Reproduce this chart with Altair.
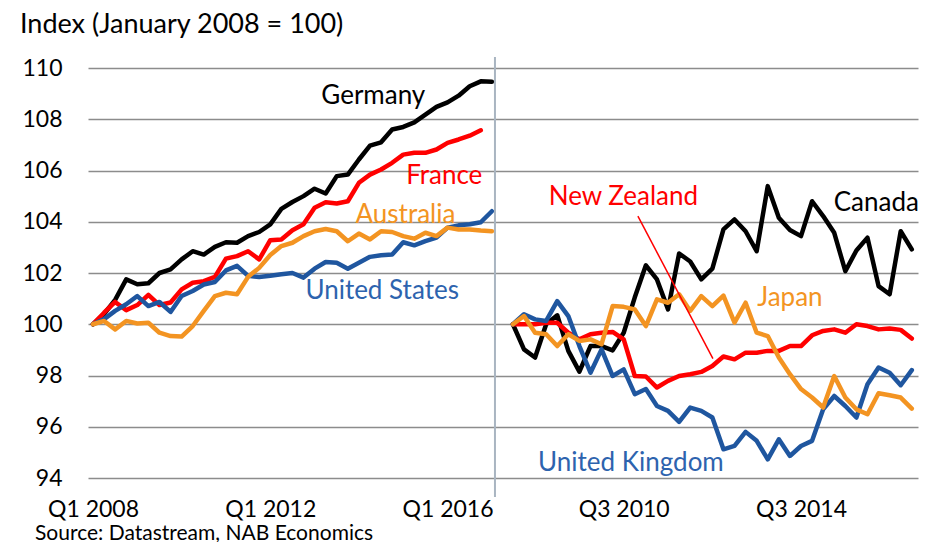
import altair as alt
import pandas as pd

# ---------------- data (quarterly, index Q1 2008 = 0 ... Q1 2017 = 36) ----------------
quarter_labels = ["Q1 2008", "Q1 2012", "Q1 2016", "Q3 2010", "Q3 2014"]

germany = [100, 100.4, 100.95, 101.75, 101.56, 101.6, 102.0, 102.14, 102.53, 102.85,
           102.72, 103.02, 103.2, 103.18, 103.44, 103.6, 103.9, 104.5, 104.77, 105.0,
           105.29, 105.1, 105.78, 105.84, 106.43, 106.97, 107.1, 107.6, 107.7, 107.88,
           108.18, 108.48, 108.66, 108.92, 109.29, 109.48, 109.46]
france = [100, 100.45, 100.87, 100.55, 100.75, 101.15, 100.75, 100.85, 101.36, 101.62,
          101.68, 101.85, 102.56, 102.66, 102.85, 102.53, 103.28, 103.31, 103.67, 103.9,
          104.55, 104.76, 104.71, 104.8, 105.52, 105.84, 106.04, 106.3, 106.62, 106.69,
          106.69, 106.82, 107.08, 107.21, 107.36, 107.57]
united_states = [100, 100.2, 100.52, 100.78, 101.1, 100.71, 100.87, 100.48, 101.1, 101.3,
                 101.55, 101.65, 102.1, 102.28, 101.89, 101.84, 101.89, 101.95, 102.0, 101.82,
                 102.17, 102.43, 102.4, 102.17, 102.4, 102.63, 102.69, 102.72, 103.2, 103.08,
                 103.24, 103.38, 103.77, 103.86, 103.9, 103.98, 104.41]
australia = [100, 100.13, 99.8, 100.13, 100.03, 100.06, 99.67, 99.54, 99.52, 99.93,
             100.52, 101.1, 101.23, 101.17, 101.85, 102.2, 102.7, 103.05, 103.18, 103.44,
             103.63, 103.72, 103.63, 103.24, 103.54, 103.31, 103.63, 103.6, 103.44, 103.34,
             103.57, 103.44, 103.77, 103.7, 103.7, 103.66, 103.63]

canada = [100, 99.02, 98.7, 100.0, 100.35, 98.96, 98.15, 99.15, 99.15, 98.98,
          99.67, 101.05, 102.3, 101.75, 100.58, 102.76, 102.45, 101.75, 102.17, 103.7,
          104.09, 103.63, 102.85, 105.39, 104.16, 103.68, 103.44, 104.8, 104.22, 103.57,
          102.07, 102.88, 103.38, 101.49, 101.17, 103.63, 102.92]
new_zealand = [100, 100, 100, 100.06, 100.06, 99.67, 99.41, 99.61, 99.67, 99.7,
               99.41, 97.98, 97.96, 97.53, 97.79, 97.98, 98.05, 98.14, 98.37, 98.74,
               98.63, 98.89, 98.89, 98.96, 98.96, 99.15, 99.15, 99.57, 99.74, 99.8,
               99.67, 100.0, 99.93, 99.8, 99.83, 99.78, 99.44]
united_kingdom = [100, 100.39, 100.19, 100.13, 100.9, 100.32, 99.15, 98.11, 99.02, 97.98,
                  98.24, 97.27, 97.47, 96.81, 96.62, 96.19, 96.75, 96.62, 96.36, 95.12,
                  95.25, 95.8, 95.45, 94.73, 95.51, 94.86, 95.25, 95.45, 96.68, 97.2,
                  96.81, 96.36, 97.66, 98.31, 98.11, 97.62, 98.21]
japan = [100, 100.32, 99.67, 99.61, 99.15, 99.61, 99.35, 99.41, 99.22, 100.71,
         100.68, 100.58, 99.93, 100.97, 100.84, 101.17, 100.52, 101.1, 100.71, 101.12,
         100.06, 100.84, 99.67, 99.54, 98.7, 98.05, 97.47, 97.14, 96.75, 97.98,
         97.14, 96.68, 96.49, 97.31, 97.23, 97.14, 96.71]

# right panel starts further along the shared quarter axis
RIGHT_OFFSET = 37.9
SEPARATOR_X = 36.28
tick_positions = [0, 16, 32, RIGHT_OFFSET + 10, RIGHT_OFFSET + 26]

BLACK = "#000000"
RED = "#FF0000"
ORANGE = "#F39422"
BLUE_LINE = "#1F569F"
BLUE_TEXT = "#2D63AE"

# draw order: bottom to top
series = [
    ("Germany", germany, 0, BLACK),
    ("France", france, 0, RED),
    ("United States", united_states, 0, BLUE_LINE),
    ("Australia", australia, 0, ORANGE),
    ("Canada", canada, RIGHT_OFFSET, BLACK),
    ("New Zealand", new_zealand, RIGHT_OFFSET, RED),
    ("United Kingdom", united_kingdom, RIGHT_OFFSET, BLUE_LINE),
    ("Japan", japan, RIGHT_OFFSET, ORANGE),
]

label_names = ["Germany", "France", "Australia", "United States",
               "New Zealand", "Canada", "Japan", "United Kingdom"]
label_x = [25.3, 31.7, 28.2, 26.1,
           RIGHT_OFFSET + 9.97, RIGHT_OFFSET + 32.8, RIGHT_OFFSET + 25.0, RIGHT_OFFSET + 10.65]
label_y = [108.61, 105.49, 103.96, 100.97, 104.65, 104.41, 100.71, 94.28]
label_colors = [BLACK, RED, ORANGE, BLUE_TEXT, RED, BLACK, ORANGE, BLUE_TEXT]

leader = pd.DataFrame({"x": [RIGHT_OFFSET + 11.28], "y": [104.22],
                       "x2": [RIGHT_OFFSET + 18.05], "y2": [98.66]})

FONT = "Lato"
x_scale = alt.Scale(domain=[-0.45, 74.46], nice=False, zero=False)
y_scale = alt.Scale(domain=[94, 110], nice=False, zero=False)

label_expr = ("datum.value < 8 ? 'Q1 2008' : datum.value < 24 ? 'Q1 2012' : "
              "datum.value < 40 ? 'Q1 2016' : datum.value < 56 ? 'Q3 2010' : 'Q3 2014'")

x_axis = alt.Axis(values=tick_positions, labelExpr=label_expr, grid=False, ticks=False,
                  domain=False, labelFontSize=23, labelFont=FONT, labelColor="black",
                  labelPadding=20, title=None, labelFlush=False)
y_axis = alt.Axis(values=list(range(94, 111, 2)), grid=True, ticks=False, domain=False,
                  labelFontSize=23, labelFont=FONT, labelColor="black", labelPadding=26,
                  title=None, gridColor="#8C8C8C", gridWidth=1.6)

layers = []
first = True
for name, vals, off, col in series:
    df = pd.DataFrame({"x": [i + off for i in range(len(vals))], "value": vals})
    if first:
        enc_x = alt.X("x:Q", scale=x_scale, axis=x_axis)
        enc_y = alt.Y("value:Q", scale=y_scale, axis=y_axis)
    else:
        enc_x = alt.X("x:Q", scale=x_scale)
        enc_y = alt.Y("value:Q", scale=y_scale)
    ch = alt.Chart(df).mark_line(color=col, strokeWidth=4.5, strokeJoin="round",
                                 strokeCap="round").encode(x=enc_x, y=enc_y)
    first = False
    layers.append(ch)

# panel separator
sep = alt.Chart(pd.DataFrame({"x": [SEPARATOR_X]})).mark_rule(
    color="#A9B5C1", strokeWidth=2).encode(
    x=alt.X("x:Q", scale=x_scale), y=alt.value(-11), y2=alt.value(429))

lead = alt.Chart(leader).mark_rule(color=RED, strokeWidth=1.5).encode(
    x=alt.X("x:Q", scale=x_scale), y=alt.Y("y:Q", scale=y_scale),
    x2="x2:Q", y2="y2:Q")

labels_df = pd.DataFrame({"name": label_names, "x": label_x, "y": label_y, "c": label_colors})
labels = alt.Chart(labels_df).mark_text(fontSize=26, font=FONT, align="center",
                                        baseline="alphabetic").encode(
    x=alt.X("x:Q", scale=x_scale), y=alt.Y("y:Q", scale=y_scale),
    text="name:N", color=alt.Color("c:N", scale=None))

title = alt.Chart(pd.DataFrame({"t": ["Index (January 2008 = 100)"]})).mark_text(
    fontSize=27, font=FONT, align="left", baseline="alphabetic", color="black").encode(
    x=alt.value(-68), y=alt.value(-35), text="t:N")

source = alt.Chart(pd.DataFrame({"t": ["Source: Datastream, NAB Economics"]})).mark_text(
    fontSize=21, font=FONT, align="left", baseline="alphabetic", color="black").encode(
    x=alt.value(-53), y=alt.value(472), text="t:N")

chart = alt.layer(*layers, sep, lead, labels, title, source).properties(
    width=830, height=410,
    autosize=alt.AutoSizeParams(type="none"),
    padding={"left": 80, "top": 60, "right": 8, "bottom": 64},
).configure_view(stroke=None)

chart.save("out.html", embed_options={"renderer": "svg", "actions": False})
